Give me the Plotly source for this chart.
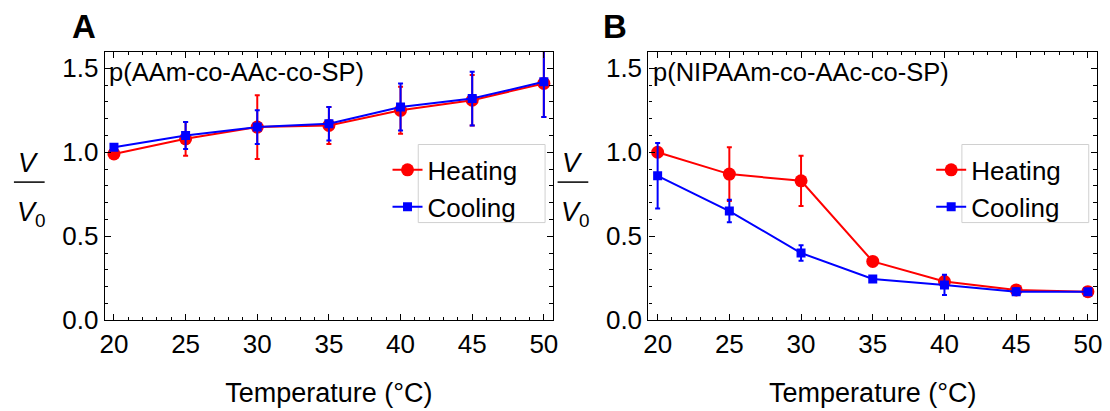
import plotly.graph_objects as go

# ---------------- data ----------------
temperature = [20, 25, 30, 35, 40, 45, 50]

a_heating = [0.99, 1.08, 1.15, 1.16, 1.25, 1.31, 1.41]
a_heating_err = [0.01, 0.10, 0.19, 0.11, 0.14, 0.15, 0.20]
a_cooling = [1.03, 1.10, 1.15, 1.17, 1.27, 1.32, 1.42]
a_cooling_err = [0.01, 0.08, 0.10, 0.10, 0.14, 0.16, 0.21]

b_heating = [1.00, 0.87, 0.83, 0.35, 0.23, 0.18, 0.17]
b_heating_err = [0.01, 0.16, 0.15, 0.01, 0.03, 0.01, 0.01]
b_cooling = [0.86, 0.65, 0.40, 0.245, 0.21, 0.17, 0.17]
b_cooling_err = [0.195, 0.067, 0.046, 0.01, 0.06, 0.02, 0.01]

x_ticks = [20, 25, 30, 35, 40, 45, 50]
y_ticks = [0.0, 0.5, 1.0, 1.5]
y_ticklabels = ["0.0", "0.5", "1.0", "1.5"]

W, H = 1110, 411
FONT = "Liberation Sans, Arial, Helvetica, sans-serif"
RED = "#ff0000"
BLUE = "#0000ff"


def px_x(v):
    return v / W


def px_y(v):
    return 1 - v / H


fig = go.Figure()

panels = [
    ("x", "y", a_heating, a_heating_err, a_cooling, a_cooling_err, "legend"),
    ("x2", "y2", b_heating, b_heating_err, b_cooling, b_cooling_err, "legend2"),
]
for xa, ya, h, he, c, ce, lg in panels:
    fig.add_trace(go.Scatter(
        x=temperature, y=h, xaxis=xa, yaxis=ya, name="Heating", legend=lg,
        mode="lines+markers",
        line=dict(color=RED, width=2),
        marker=dict(symbol="circle", size=13, color=RED),
        error_y=dict(type="data", array=he, color=RED, thickness=2, width=2.5),
    ))
    fig.add_trace(go.Scatter(
        x=temperature, y=c, xaxis=xa, yaxis=ya, name="Cooling", legend=lg,
        mode="lines+markers",
        line=dict(color=BLUE, width=2),
        marker=dict(symbol="square", size=9, color=BLUE),
        error_y=dict(type="data", array=ce, color=BLUE, thickness=2, width=2.5),
    ))

x_dom_a = [px_x(100.7), px_x(553)]
x_dom_b = [px_x(649.3), px_x(1102)]
y_dom = [px_y(332.3), px_y(53.5)]

xaxis_common = dict(
    range=[19.36, 50.64], tickmode="array", tickvals=x_ticks,
    ticks="inside", ticklen=6, tickwidth=1, tickcolor="black",
    minor=dict(ticks="inside", ticklen=3.5, dtick=1, tick0=20, tickcolor="black", tickwidth=1),
    showline=True, linecolor="black", linewidth=1.3, mirror="allticks",
    showgrid=False, zeroline=False,
    tickfont=dict(family=FONT, size=26, color="black"),
    title=dict(text="Temperature (°C)", font=dict(family=FONT, size=27, color="black"), standoff=25),
)
yaxis_common = dict(
    range=[0, 1.6], tickmode="array", tickvals=y_ticks, ticktext=y_ticklabels,
    ticks="inside", ticklen=6, tickwidth=1, tickcolor="black",
    minor=dict(ticks="inside", ticklen=3.5, dtick=0.1, tick0=0, tickcolor="black", tickwidth=1),
    showline=True, linecolor="black", linewidth=1.3, mirror="allticks",
    showgrid=False, zeroline=False,
    tickfont=dict(family=FONT, size=26, color="black"),
)

fig.update_layout(
    width=W, height=H,
    margin=dict(l=0, r=0, t=0, b=0),
    paper_bgcolor="white", plot_bgcolor="white",
    xaxis=dict(domain=x_dom_a, anchor="y", **xaxis_common),
    yaxis=dict(domain=y_dom, anchor="x", **yaxis_common),
    xaxis2=dict(domain=x_dom_b, anchor="y2", **xaxis_common),
    yaxis2=dict(domain=y_dom, anchor="x2", **yaxis_common),
    legend=dict(x=px_x(386), y=px_y(152), xanchor="left", yanchor="top",
                bgcolor="rgba(0,0,0,0)", borderwidth=0,
                font=dict(family=FONT, size=26, color="black"), tracegroupgap=0),
    legend2=dict(x=px_x(386 + 548.6), y=px_y(152), xanchor="left", yanchor="top",
                 bgcolor="rgba(0,0,0,0)", borderwidth=0,
                 font=dict(family=FONT, size=26, color="black"), tracegroupgap=0),
    showlegend=True,
)

shapes = []
annotations = []
for off, letter, label in [(0, "A", "p(AAm-co-AAc-co-SP)"), (548.6, "B", "p(NIPAAm-co-AAc-co-SP)")]:
    # legend frame
    shapes.append(dict(type="rect", xref="paper", yref="paper",
                       x0=px_x(417 + off), x1=px_x(545 + off), y0=px_y(231), y1=px_y(150),
                       line=dict(color="#d0d0d0", width=1), fillcolor="white", layer="above"))
    # fraction bar of the y label
    shapes.append(dict(type="line", xref="paper", yref="paper",
                       x0=px_x(9 + off), x1=px_x(40 + off), y0=px_y(189), y1=px_y(189),
                       line=dict(color="black", width=1.5)))
    annotations += [
        dict(text="<i>V</i>", x=px_x(24 + off), y=px_y(169), xref="paper", yref="paper",
             showarrow=False, xanchor="center", yanchor="middle",
             font=dict(family=FONT, size=27, color="black")),
        dict(text="<i>V</i><sub>0</sub>", x=px_x(27 + off), y=px_y(222), xref="paper", yref="paper",
             showarrow=False, xanchor="center", yanchor="middle",
             font=dict(family=FONT, size=27, color="black")),
        dict(text="<b>%s</b>" % letter, x=px_x(80 + off - (13 if letter == "B" else 0)), y=px_y(27),
             xref="paper", yref="paper", showarrow=False, xanchor="center", yanchor="middle",
             font=dict(family=FONT, size=33, color="black")),
        dict(text=label, x=px_x(103 + off), y=px_y(75), xref="paper", yref="paper",
             showarrow=False, xanchor="left", yanchor="middle",
             font=dict(family=FONT, size=25.5, color="black")),
    ]

fig.update_layout(shapes=shapes, annotations=annotations)

fig.write_html("out.html")
